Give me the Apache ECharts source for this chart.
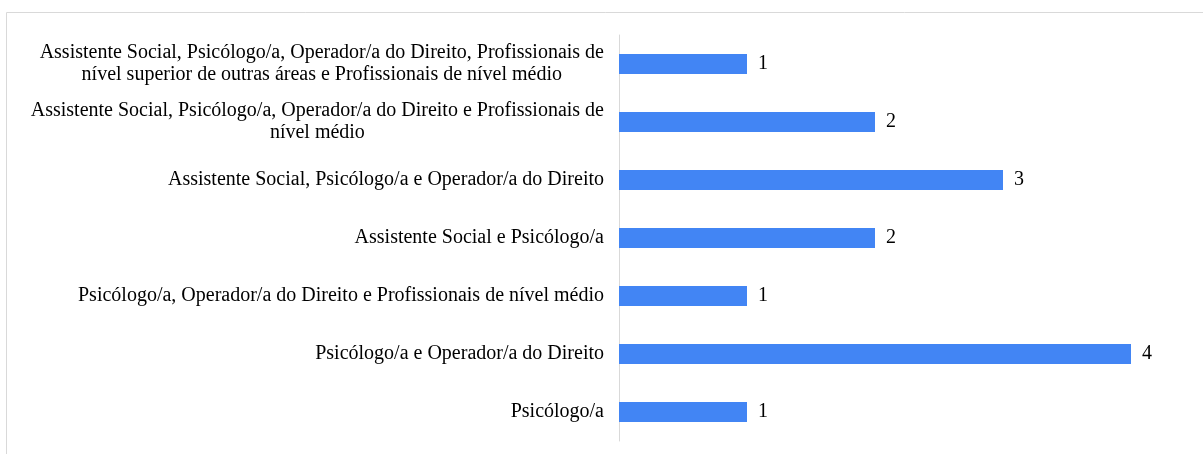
<!DOCTYPE html>
<html>
<head>
<meta charset="utf-8">
<script src="https://cdn.jsdelivr.net/npm/echarts@6/dist/echarts.min.js"></script>
<style>
  html, body { margin: 0; padding: 0; background: #fff; }
  #chart { width: 1203px; height: 454px; }
</style>
</head>
<body>
<div id="chart"></div>
<script>
// categories from top to bottom, as in the picture
var categories = [
  'Assistente Social, Psicólogo/a, Operador/a do Direito, Profissionais de\nnível superior de outras áreas e Profissionais de nível médio',
  'Assistente Social, Psicólogo/a, Operador/a do Direito e Profissionais de\nnível médio',
  'Assistente Social, Psicólogo/a e Operador/a do Direito',
  'Assistente Social e Psicólogo/a',
  'Psicólogo/a, Operador/a do Direito e Profissionais de nível médio',
  'Psicólogo/a e Operador/a do Direito',
  'Psicólogo/a'
];
var counts = [1, 2, 3, 2, 1, 4, 1];

var serif = '"Liberation Serif", "Times New Roman", serif';

var myChart = echarts.init(document.getElementById('chart'));
var option = {
  animation: false,
  graphic: [{
    type: 'rect',
    shape: { x: 6.5, y: 12.5, width: 1210, height: 460 },
    style: { fill: 'none', stroke: '#d9d9d9', lineWidth: 1 },
    silent: true
  }],
  grid: { left: 619, right: 72, top: 35, bottom: 13, containLabel: false },
  xAxis: {
    type: 'value',
    min: 0,
    max: 4,
    show: false
  },
  yAxis: {
    type: 'category',
    inverse: true,
    data: categories,
    axisLine: { show: true, lineStyle: { color: '#d9d9d9', width: 1 } },
    axisTick: { show: false },
    axisLabel: {
      margin: 15,
      color: '#000',
      fontFamily: serif,
      fontSize: 20,
      lineHeight: 22,
      formatter: function (v) {
        return v.split('\n').map(function (l) { return '{c|' + l + '}'; }).join('\n');
      },
      rich: {
        c: { align: 'center', fontFamily: serif, fontSize: 20, lineHeight: 22, color: '#000' }
      }
    }
  },
  series: [{
    type: 'bar',
    data: counts,
    barWidth: 20,
    itemStyle: { color: '#4285f4' },
    label: {
      show: true,
      position: 'right',
      distance: 11,
      color: '#000',
      fontFamily: serif,
      fontSize: 20
    }
  }]
};
myChart.setOption(option);
</script>
</body>
</html>
